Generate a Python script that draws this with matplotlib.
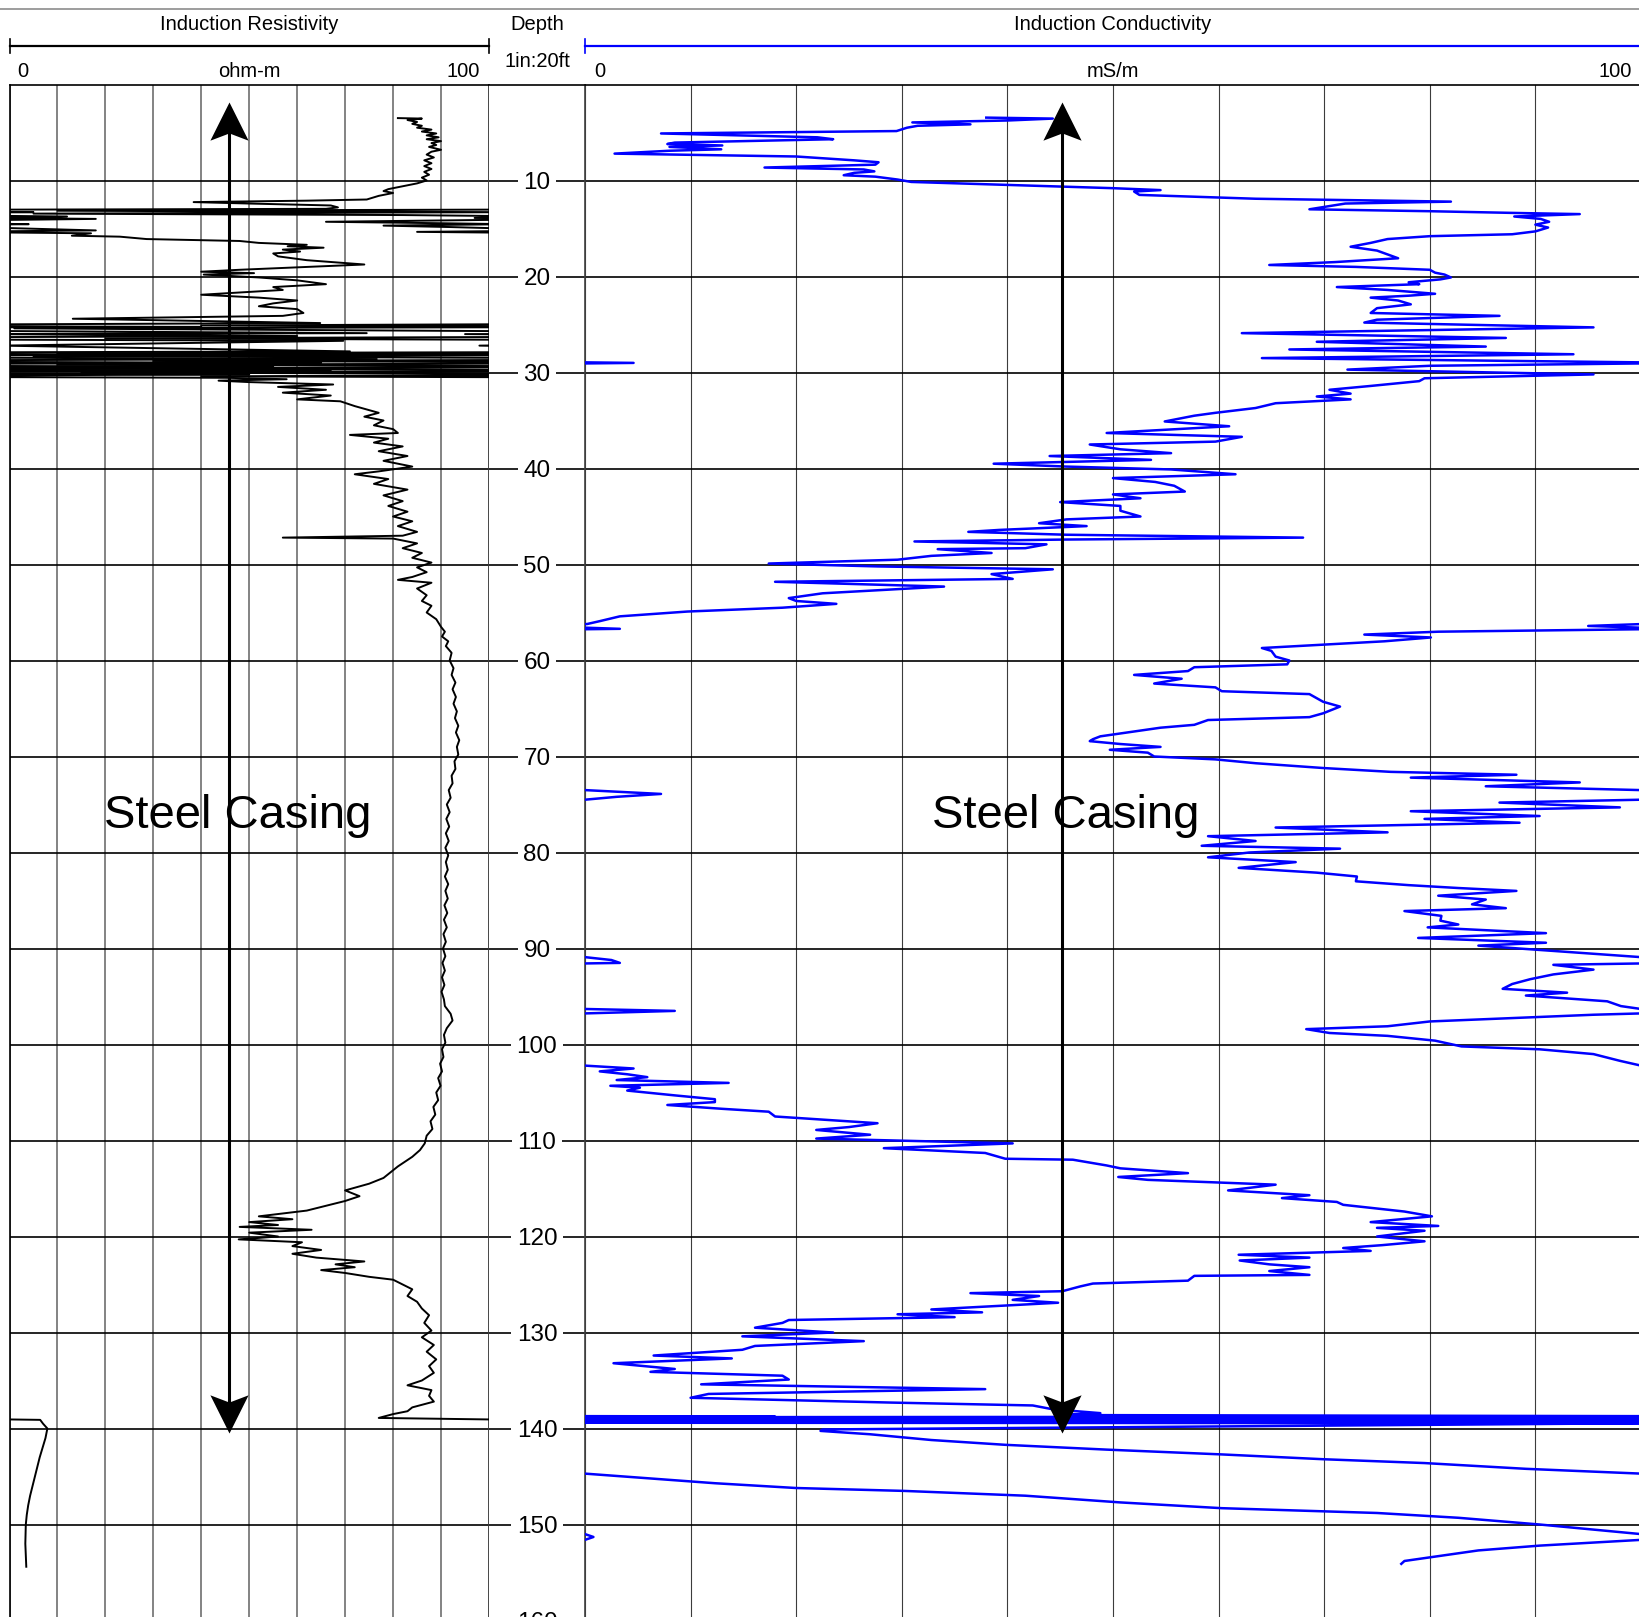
import numpy as np
import matplotlib
matplotlib.use('Agg')
import matplotlib.pyplot as plt
from matplotlib.lines import Line2D
from matplotlib.path import Path

plt.rcParams['font.family'] = ['Liberation Sans', 'DejaVu Sans']

# depth (ft) / induction resistivity (ohm-m); values past 0..100 wrap around the track
res_depth = [3.5, 3.55, 3.7, 3.9, 4.1, 4.3, 4.5, 4.7, 4.9, 5.1, 5.3, 5.5,
             5.7, 5.9, 6.1, 6.3, 6.5, 6.8, 7.0, 7.3, 7.6, 7.9, 8.2, 8.5,
             8.8, 9.1, 9.4, 9.7, 10.0, 10.3, 10.6, 10.9, 11.1, 11.3, 11.6, 11.98,
             12.1, 12.25, 12.4, 12.6, 12.8, 12.95, 13.15, 13.3, 13.45, 13.6, 13.75, 13.9,
             14.0, 14.3, 14.45, 14.55, 14.7, 14.85, 15.2, 15.35, 15.5, 15.75, 15.85, 16.1,
             16.3, 16.5, 16.7, 16.85, 17.0, 17.2, 17.4, 17.6, 17.9, 18.3, 18.75, 19.0,
             19.3, 19.5, 19.65, 19.8, 20.1, 20.4, 20.8, 21.1, 21.4, 21.9, 22.2, 22.5,
             22.8, 23.1, 23.4, 23.8, 24.1, 24.4, 24.85, 25.1, 25.25, 25.4, 25.9, 26.0,
             26.2, 26.45, 26.7, 27.2, 27.8, 28.0, 28.15, 28.3, 28.6, 28.8, 29.0, 29.2,
             29.4, 29.6, 29.8, 30.0, 30.2, 30.4, 30.55, 30.7, 30.85, 31.0, 31.25, 31.5,
             31.8, 32.1, 32.4, 32.8, 33.0, 33.5, 34.2, 34.6, 35.0, 35.5, 35.9, 36.3,
             36.5, 36.9, 37.3, 37.7, 38.2, 38.7, 39.2, 39.8, 40.3, 40.6, 41.1, 41.6,
             42.2, 42.8, 43.4, 43.9, 44.5, 45.0, 45.5, 46.0, 46.6, 47.0, 47.2, 47.3,
             47.8, 48.3, 48.8, 49.3, 49.8, 50.3, 50.8, 51.3, 51.6, 51.9, 52.5, 53.2,
             53.8, 54.3, 55.0, 55.7,
             56.5, 57.0, 57.5, 58.0, 58.5, 59.2, 60, 60.8, 61.5, 62.3, 63, 63.8,
             64.5, 65.3, 66, 66.8, 67.5, 68.3, 69, 69.8, 70.5, 71.3, 72, 72.8,
             73.5, 74.3, 75, 75.8, 76.5, 77.3, 78, 78.8, 79.5, 80.3, 81, 81.8,
             82.5, 83.3, 84, 84.8, 85.5, 86.3, 87, 87.8, 88.5, 89.3, 90, 90.8,
             91.5, 92.3, 93, 93.8, 94.5, 95.3, 96, 96.8, 97.5, 98.3, 99, 99.8,
             100.5, 101.3, 102, 102.8, 103.5, 104.3, 105, 105.8, 106.5, 107.3, 108, 108.8,
             109.5, 110.3, 111, 111.7,
             112.7, 113.9, 114.5, 115.2, 115.8, 116.3, 116.8, 117.3, 117.6, 117.9, 118.2, 118.5,
             118.8, 119.0, 119.3, 119.6, 120.0, 120.3, 120.6, 121.0, 121.4, 121.8, 122.2, 122.6,
             122.9, 123.2, 123.5, 123.8, 124.2, 124.5, 125.0, 125.5, 126.2, 126.8, 127.5, 128.2,
             129.0, 129.8, 130.5, 131.3, 132.0, 132.8, 133.5, 134.2, 135.0, 135.5, 136.0, 136.6,
             137.2, 137.8, 138.2, 138.5, 138.9, 139.1, 139.5, 140, 141, 142, 143, 144,
             145, 146, 147, 148, 149, 150, 152, 154.4]
res_ohm = [81, 86, 83, 85, 84, 86, 85, 88, 86, 89, 87, 89.5,
           87, 90, 88, 89, 87.5, 90, 88, 87, 88.5, 86.5, 88, 86.5,
           88, 86.5, 87.5, 86, 87, 85, 82, 79, 78, 80, 77, 74.5,
           62, 38.4, 50, 67, 68.5, 66, -90, 5, -95, -18, 12, -3,
           18, -34, -10, 4, -22, -8, 18, -15, 17, 13, 23, 28.6,
           48, 52, 62, 58, 65.5, 57, 60.6, 55, 56, 62, 74, 62,
           48, 40, 51, 40.5, 52, 60, 66, 55, 57, 40, 52, 60,
           55, 52, 60, 61.3, 57, 13.2, 64.8, -60, 40, -99, 74.5, -5,
           60, -80, 69.6, -2, 71, -90, 60, -95, 76.6, -70, 65, -90,
           55, -100, 67, -85, 50, -60, 45, 57.8, 43.6, 50, 67.5, 56,
           66, 57, 67, 60, 69, 72, 77, 74, 78, 76, 80, 81,
           71, 79, 76, 82, 77, 83, 78, 84, 77, 72, 79, 76,
           83, 78, 82, 79, 83, 80, 84, 81, 85, 82, 57, 80,
           85, 82, 86, 84, 88, 85, 87, 84, 81, 88, 85, 87,
           86, 88, 87, 89,
           90, 90.8, 90.2, 91.5, 91, 92.2, 91.8, 92.6, 92.2, 93, 92.4, 93.1,
           92.6, 93.3, 92.9, 93.6, 93.1, 93.8, 93.3, 93.6, 92.8, 93, 92.2, 92.4,
           91.6, 92, 91.2, 91.8, 91.1, 91.7, 91, 91.6, 90.9, 91.5, 91, 91.4,
           90.8, 91.5, 90.9, 91.4, 90.7, 91.3, 90.6, 91.2, 90.5, 91, 90.4, 90.9,
           90.3, 90.8, 90.2, 90.7, 90.1, 90.6, 90.8, 92, 92.4, 91.2, 90.6, 90.9,
           90.2, 90.5, 89.8, 90.2, 89.4, 89.9, 89, 89.4, 88.4, 88.8, 87.8, 88.2,
           87, 86.6, 85.6, 84,
           81, 78, 75, 70, 73, 70, 66, 62, 57, 52, 59, 50,
           56, 48, 63, 50, 56, 47.8, 61, 59, 65, 59, 64, 74,
           68, 72, 65, 70, 75, 80, 82, 84, 83, 85, 86, 87.5,
           86.5, 88, 86, 88.5, 87, 89, 87.5, 88.5, 86, 83, 88, 87.5,
           88.5, 84, 83, 80, 77, 106.4, 107, 107.9, 107.5, 106.9, 106.3, 105.8,
           105.3, 104.8, 104.3, 103.9, 103.6, 103.4, 103.3, 103.5]

# depth (ft) / induction conductivity (mS/m), unwrapped
cond_depth = [3.45, 3.55, 3.75, 3.95, 4.15, 4.3, 4.5, 4.85, 5.1, 5.5, 5.7, 5.9,
              6.05, 6.2, 6.35, 6.5, 6.75, 6.9, 7.2, 7.5, 7.9, 8.1, 8.35, 8.65,
              8.85, 9.05, 9.2, 9.45, 9.6, 9.9, 10.15, 10.45, 10.8, 11.0, 11.15, 11.5,
              11.9, 12.2, 12.4, 13.0, 13.2, 13.4, 13.5, 13.75, 14.0, 14.3, 14.6, 14.9,
              15.3, 15.6, 15.8, 16.1, 16.5, 16.9, 17.3, 17.7, 18.1, 18.5, 18.8, 19.0,
              19.3, 19.6, 19.8, 20.1, 20.3, 20.6, 20.8, 21.1, 21.4, 21.8, 22.0, 22.2,
              22.5, 22.9, 23.3, 23.8, 24.1, 24.5, 24.8, 25.3, 25.9, 26.4, 26.8, 27.3,
              27.6, 28.1, 28.5, 29.0, 29.3, 29.7, 30.2, 30.6, 30.9, 31.4, 31.8, 32.2,
              32.5, 32.8, 33.2, 33.7, 34.2, 34.5, 35.1, 35.6, 36.3, 36.7, 37.2, 37.5,
              38.0, 38.4, 38.7, 39.1, 39.5, 39.8, 40.1, 40.6, 41.0, 41.4, 41.8, 42.4,
              42.7, 43.1, 43.5, 43.9, 44.4, 45.0, 45.3, 45.7, 46.0, 46.4, 46.6, 46.9,
              47.2, 47.4, 47.6, 47.9, 48.3, 48.4, 48.8, 49.1, 49.5, 49.9, 50.2, 50.5,
              51.0, 51.5, 51.8, 52.3, 52.6, 53.0, 53.5, 53.8, 54.1, 54.5, 54.9, 55.4,
              55.9, 56.2, 56.4, 56.7, 57.0, 57.3, 57.6, 58.0, 58.7, 59.0, 59.6, 60.0,
              60.4, 60.7, 61.1, 61.5, 61.9, 62.4, 62.8, 63.2, 63.5, 64.3, 64.8, 65.5,
              65.9, 66.2, 66.7, 67.0, 67.5, 67.9, 68.2, 68.4, 68.7, 69.0, 69.3, 69.6,
              70.0, 70.3, 70.7, 71.2, 71.6, 71.9, 72.2, 72.7, 73.1, 73.5, 73.9, 74.2,
              74.5, 74.8, 75.3, 75.7, 76.2, 76.5, 76.9, 77.4, 77.9, 78.3, 78.8, 79.3,
              79.6, 80.0, 80.5, 81.0, 81.6, 82.1, 82.5, 83.0, 83.4, 83.7, 84.0, 84.5,
              84.9, 85.4, 85.8, 86.1, 86.6, 87.1, 87.5, 87.8, 88.4, 88.9, 89.4, 89.7,
              90.3, 90.9, 91.2, 91.5, 91.7, 92.2, 92.7, 93.2, 93.7, 94.2, 94.6, 94.9,
              95.5, 96.0, 96.3, 96.5, 96.7, 96.9, 97.6, 98.1, 98.4, 98.8, 99.1, 99.6,
              100.2, 100.5, 101.0, 101.7, 102.2, 102.5, 102.8, 103.1, 103.4, 103.7, 104.0, 104.3,
              104.5, 104.8, 105.3, 105.7, 106.0, 106.3, 106.7, 107.0, 107.5, 108.2, 108.6, 108.9,
              109.4, 109.8, 110.3, 110.8, 111.3, 111.9, 112.0, 112.6, 112.9, 113.4, 113.8, 114.1,
              114.6, 115.2, 115.7, 116.0, 116.4, 116.7, 117.4, 117.9, 118.5, 118.9, 119.1, 119.4,
              120.0, 120.5, 120.9, 121.2, 121.5, 121.9, 122.2, 122.5, 122.9, 123.2, 123.6, 124.0,
              124.1, 124.6, 124.9, 125.2, 125.7, 125.9, 126.2, 126.6, 126.9, 127.3, 127.6, 127.9,
              128.1, 128.4, 128.7, 129.0, 129.5, 130.0, 130.4, 130.9, 131.4, 131.8, 132.4, 132.7,
              133.2, 133.8, 134.1, 134.5, 134.9, 135.4, 135.9, 136.4, 136.8, 137.3, 137.6, 138.0,
              138.4, 138.6, 138.75, 138.95, 139.15, 139.3, 139.45, 140.1, 140.25, 140.6, 141.2, 141.7,
              142.2, 142.7, 143.2, 143.6, 144.2, 144.7, 145.7, 146.2, 146.5, 147.0, 147.7, 148.3,
              148.8, 149.3, 150.0, 151.0, 151.3, 151.6, 152.2, 152.7, 153.2, 153.8, 154.1]
cond_ms = [38, 44.3, 40, 31, 36.5, 31.5, 30.5, 29.5, 7.2, 22, 23.5, 15,
           8.5, 7.8, 13, 8, 12.9, 8, 2.8, 20, 25.5, 27.8, 27.5, 17,
           26.4, 27.4, 25.5, 24.5, 27.5, 29.6, 30.9, 39.8, 50, 54.5, 52, 52.5,
           63.5, 82, 72, 68.6, 80, 89, 94.2, 88, 90.5, 91.3, 90, 91.2,
           90, 87.8, 80, 76, 74.4, 72.5, 75, 76, 77, 71, 64.8, 73,
           80, 80.5, 81.4, 82, 81, 78, 79, 71.2, 76, 80.5, 78, 74.4,
           77, 78.2, 75, 74.4, 86.6, 75, 73.8, 95.5, 62.2, 87.2, 69.3, 85.3,
           66.7, 93.6, 64.1, 104.6, 80, 72.2, 95.5, 79.5, 79, 74.4, 70.5, 72.5,
           69.3, 72.5, 65.4, 63.5, 59.7, 57.7, 54.9, 61, 49.4, 62.2, 59.7, 47.8,
           50.7, 55.5, 44, 53.6, 38.7, 45.6, 55.5, 61.6, 50, 54, 55.8, 56.8,
           50, 52.6, 45, 50.7, 50.7, 52.6, 45.6, 43, 47.5, 39.2, 36.3, 45.6,
           68, 45.6, 31.2, 43.7, 41.7, 33.4, 38.5, 32.8, 29.6, 17.4, 27.7, 44.3,
           38.5, 40.5, 18, 34, 29, 22.5, 19.3, 20, 23.8, 18.7, 9.7, 3.3,
           1.4, 0.2, -5, 3.3, -19.2, -26.2, -19.9, -24.3, -35.9, -35, -34.6, -33.3,
           -33.5, -42.3, -42.9, -48, -43.5, -46.1, -40.3, -39.7, -31.4, -30.1, -28.5, -30.1,
           -31.4, -41, -42.3, -45.5, -48.7, -51.2, -51.9, -52.2, -49.3, -45.5, -50.3, -46.7,
           -46.1, -40.3, -36.5, -30.1, -23.7, -11.8, -21.8, -5.8, -14.7, 0, 7.2, 3,
           0, -13.4, -2, -21.8, -9.6, -20.5, -11.5, -34.6, -24, -41, -36.5, -41.6,
           -28.5, -37.1, -41, -32.7, -38.1, -30.7, -26.9, -27, -22, -17.3, -11.8, -19.2,
           -14.7, -16, -12.8, -22.4, -18.9, -19, -17.3, -20.2, -9, -21.1, -9, -15.4,
           -7.7, 0, 2.5, 3.3, -8.3, -4.5, -8.3, -10.5, -12.2, -13.1, -7, -10.9,
           -3.2, -1.9, 0, 8.5, 2, -4.5, -20, -24, -31.7, -29.5, -24, -19.5,
           -17, -9.6, -4.5, -2, 0, 4.6, 1.4, 4, 5.9, 3, 13.6, 2.4,
           5.2, 4, 8.5, 12.3, 12.3, 7.8, 13, 17.4, 18, 27.7, 25, 21.9,
           27, 21.9, 40.5, 28.3, 37.9, 39.8, 46.2, 49.4, 50.7, 57.1, 50.5, 53.3,
           65.4, 60.9, 68.6, 66, 71.2, 71.8, 77.6, 80.2, 74.4, 80.8, 75, 79.5,
           75, 79.5, 75.5, 71.8, 74.4, 61.9, 68.6, 62, 64.8, 68.6, 64.8, 68.6,
           57.7, 57.1, 48.1, 46.9, 45.2, 36.5, 43, 40.5, 44.8, 37.9, 32.8, 37.6,
           29.6, 35, 19.3, 18.7, 16.1, 23.5, 14.9, 26.4, 16.1, 14.9, 6.5, 13.9,
           2.7, 8.5, 6.2, 18.7, 19.3, 11, 37.9, 11.7, 10, 29, 42.4, 44.3,
           48.8, 45, 118, -200, 300, -100, 200, 122.5, 122.3, 127, 132.8, 139.8,
           149.4, 160.3, 169.9, 179.5, 189.1, 200, 212.3, 220, 230.2, 241.7, 250.7, 260.3,
           275, 282.7, 290.4, 300, 300.8, 300, 290.4, 284.6, 281.4, 277.6, 277.3]

depth_ticks = list(range(10, 170, 10))
scale_ticks = list(range(0, 110, 10))
casing_top, casing_bottom = 1.8, 140.5

W, H = 1639, 1617
fig = plt.figure(figsize=(W / 100, H / 100), dpi=100)

HDR_TOP = 9
TOP = 84.5
PX_FT = 9.6
BOT = TOP + 160 * PX_FT

# notched arrow heads, tip at the marker origin
head_up = Path([(0, 0), (0.5, -1), (0, -0.81), (-0.5, -1), (0, 0)],
               [Path.MOVETO, Path.LINETO, Path.LINETO, Path.LINETO, Path.CLOSEPOLY])
head_down = Path([(0, 0), (0.5, 1), (0, 0.81), (-0.5, 1), (0, 0)],
                 [Path.MOVETO, Path.LINETO, Path.LINETO, Path.LINETO, Path.CLOSEPOLY])


def px_axes(x0, x1, y0, y1):
    return fig.add_axes([x0 / W, 1 - y1 / H, (x1 - x0) / W, (y1 - y0) / H])


def setup_track(ax, vcol, vlw):
    ax.set_xlim(0, 100)
    ax.set_ylim(160, 0)
    ax.set_xticks(scale_ticks)
    ax.set_yticks(depth_ticks)
    ax.tick_params(length=0, labelleft=False, labelbottom=False)
    ax.set_axisbelow(True)
    ax.xaxis.grid(True, color=vcol, lw=vlw)
    ax.yaxis.grid(True, color='k', lw=1.2)
    for s in ax.spines.values():
        s.set_linewidth(1.2)


def plot_wrapped(ax, depth, vals, **kw):
    vals = np.asarray(vals, float)
    for shift in range(-300, 400, 100):
        ax.plot(vals - shift, depth, **kw)


def casing_arrow(ax, x):
    ax.plot([x, x], [casing_top + 1.5, casing_bottom - 1.5], color='k', lw=2.2, zorder=5)
    ax.plot([x], [casing_top], marker=head_up, ms=55, color='k', mew=0, zorder=5, clip_on=False)
    ax.plot([x], [casing_bottom], marker=head_down, ms=55, color='k', mew=0, zorder=5, clip_on=False)


ax_r = px_axes(9.5, 489, TOP, BOT)
ax_d = px_axes(489, 585, TOP, BOT)
ax_c = px_axes(585, 1641, TOP, BOT)

setup_track(ax_r, '#7a7a7a', 1.3)
setup_track(ax_c, '#3c3c3c', 0.8)
ax_r.spines['right'].set_color('#404040')
ax_c.spines['left'].set_color('#404040')

plot_wrapped(ax_r, res_depth, res_ohm, color='k', lw=1.4, zorder=3)
plot_wrapped(ax_c, cond_depth, cond_ms, color='#0000ff', lw=1.8, zorder=3)

casing_arrow(ax_r, 45.7)
casing_arrow(ax_c, 45.2)
ax_r.text(47.6, 77.4, 'Steel Casing', ha='center', va='baseline', fontsize=34, zorder=6)
ax_c.text(45.5, 77.4, 'Steel Casing', ha='center', va='baseline', fontsize=34, zorder=6)

# depth column
ax_d.set_xlim(0, 1)
ax_d.set_ylim(160, 0)
ax_d.set_xticks([])
ax_d.set_yticks([])
for s in ('left', 'right', 'bottom'):
    ax_d.spines[s].set_visible(False)
ax_d.spines['top'].set_linewidth(1.2)
for d in depth_ticks:
    ax_d.axhline(d, color='k', lw=1.2)
    ax_d.text(0.5, d, str(d), ha='center', va='center_baseline', fontsize=17.5,
              bbox=dict(fc='white', ec='none', pad=4))

# header
hdr_r = px_axes(9.5, 489, HDR_TOP, TOP)
hdr_d = px_axes(489, 585, HDR_TOP, TOP)
hdr_c = px_axes(585, 1641, HDR_TOP, TOP)
for h in (hdr_r, hdr_d, hdr_c):
    h.set_ylim(TOP, HDR_TOP)
    h.axis('off')
hdr_r.set_xlim(0, 100)
hdr_c.set_xlim(0, 100)
hdr_d.set_xlim(0, 1)

fs = 14.5
hdr_r.text(50, 24, 'Induction Resistivity', ha='center', va='center', fontsize=fs)
hdr_r.plot([0, 100], [46, 46], color='k', lw=1.6, clip_on=False)
hdr_r.plot([0, 0], [39, 53], color='k', lw=1.2, clip_on=False)
hdr_r.plot([100, 100], [39, 53], color='k', lw=1.2, clip_on=False)
hdr_r.text(1.7, 71.5, '0', ha='left', va='center', fontsize=fs)
hdr_r.text(50, 71.5, 'ohm-m', ha='center', va='center', fontsize=fs)
hdr_r.text(98.1, 71.5, '100', ha='right', va='center', fontsize=fs)

hdr_d.text(0.5, 25, 'Depth', ha='center', va='center', fontsize=fs)
hdr_d.text(0.5, 61.7, '1in:20ft', ha='center', va='center', fontsize=fs)

hdr_c.text(50, 24, 'Induction Conductivity', ha='center', va='center', fontsize=fs)
hdr_c.plot([0, 100], [46, 46], color='#0000ff', lw=1.6, clip_on=False)
hdr_c.plot([0, 0], [39, 53], color='#0000ff', lw=1.2, clip_on=False)
hdr_c.text(0.9, 71.5, '0', ha='left', va='center', fontsize=fs)
hdr_c.text(50, 71.5, 'mS/m', ha='center', va='center', fontsize=fs)
hdr_c.text(99.1, 71.5, '100', ha='right', va='center', fontsize=fs)

fig.add_artist(Line2D([0, 1], [1 - HDR_TOP / H] * 2, transform=fig.transFigure,
                      color='#8c8c8c', lw=1.2))

fig.savefig('out.png', dpi=100)
